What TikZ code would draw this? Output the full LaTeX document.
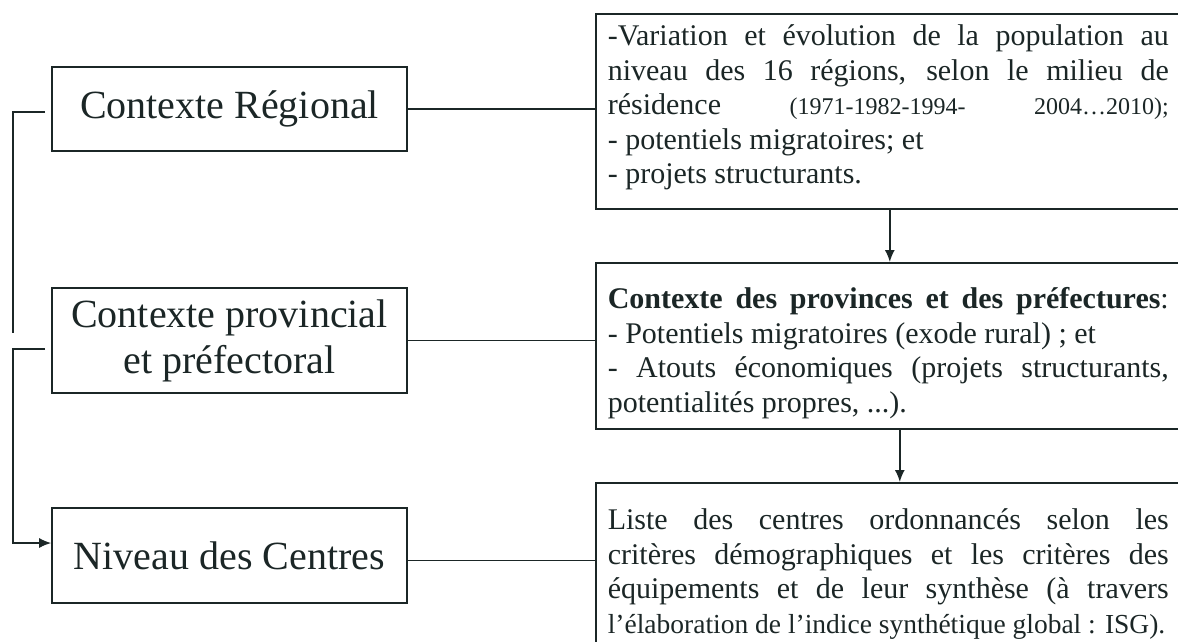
\documentclass[tikz,border=0pt]{standalone}
\usepackage{fontspec}
\setmainfont{Liberation Serif}
\usetikzlibrary{arrows.meta}
\definecolor{ink}{HTML}{1B2626}
\tikzset{lbox/.style={draw,minimum width=355pt,inner sep=0,align=center,font=\fontsize{40}{46}\selectfont},
 rbox/.style={draw,minimum width=620pt,inner sep=0,anchor=north west},
 rtext/.style={inner sep=0,anchor=north west,align=left,font=\fontsize{30}{34.5}\selectfont},
 arr/.style={-{Latex[length=12pt,width=10pt]}}}
\newcommand{\jline}[1]{\hbox to 561pt{#1}}
\newcommand{\petit}{\fontsize{24}{34.5}\selectfont}

\begin{document}
\begin{tikzpicture}[x=1pt,y=-1pt,line width=1.6pt,ink]
 \useasboundingbox (0,0) rectangle (1178,641);
 \clip (0,0) rectangle (1178,641);
 % left column
 \node[lbox,minimum height=84pt] (lreg) at (229.5,109) {Contexte Régional};
 \node[lbox,minimum height=105pt] (lprov) at (229.5,340.5) {Contexte provincial\\et préfectoral};
 \node[lbox,minimum height=95pt] (lcent) at (229.5,555.5) {Niveau des Centres};
 % right column
 \node[rbox,minimum height=195pt] (rreg) at (595,13) {};
 \node[rbox,minimum height=166pt] (rprov) at (595,262) {};
 \node[rbox,minimum height=200pt] (rcent) at (595,482) {};
 \node[rtext] (treg) at ([xshift=12pt,yshift=-8pt]rreg.north west) {%
  \jline{\strut-Variation et évolution de la population au}\\
  \jline{niveau des 16 régions, selon le milieu de}\\
  \jline{résidence\hfill{\petit(1971-1982-1994-\hfill 2004…2010);}}\\
  - potentiels migratoires; et\\
  - projets structurants.};
 \node[rtext] (tprov) at ([xshift=12pt,yshift=-22pt]rprov.north west) {%
  \jline{\strut\textbf{Contexte des provinces et des préfectures}:}\\
  - Potentiels migratoires (exode rural) ; et\\
  \jline{- Atouts économiques (projets structurants,}\\
  potentialités propres, ...).};
 \node[rtext] (tcent) at ([xshift=12pt,yshift=-23pt]rcent.north west) {%
  \jline{\strut Liste des centres ordonnancés selon les}\\
  \jline{critères démographiques et les critères des}\\
  \jline{équipements et de leur synthèse (à travers}\\
  {\fontsize{27.5}{34.5}\selectfont l’élaboration de l’indice synthétique global : ISG).}};
 % links
 \draw (lreg.east) -- (lreg.east -| rreg.west);
 \draw (lprov.east) -- (lprov.east -| rprov.west);
 \draw ([yshift=-5pt]lcent.east) -- ([yshift=-5pt]lcent.east -| rcent.west);
 \draw[arr] ([xshift=-16pt]rreg.south) -- ([xshift=-16pt]rprov.north);
 \draw[arr] ([xshift=-6pt]rprov.south) -- ([xshift=-6pt]rcent.north);
 % bracket on the left
 \coordinate (a1) at (45,112);
 \coordinate (a2) at (13,333);
 \draw (a1) -- (a1 -| a2) -- (a2);
 \coordinate (b1) at (45,349);
 \coordinate (b2) at (13,349);
 \draw[arr] (b1) -- (b2) |- ([yshift=12.5pt]lcent.west);
\end{tikzpicture}
\end{document}
